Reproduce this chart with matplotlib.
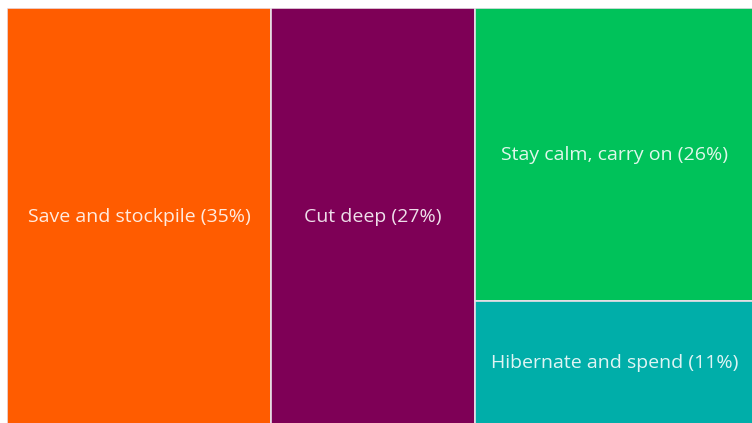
import matplotlib
matplotlib.use("Agg")
import matplotlib.pyplot as plt
from matplotlib.patches import Rectangle

labels = ["Save and stockpile", "Cut deep", "Stay calm, carry on", "Hibernate and spend"]
values = [35, 27, 26, 11]
colors = ["#FF5C00", "#7E0056", "#00C25A", "#00AEA9"]

fig = plt.figure(figsize=(7.52, 4.23), dpi=100)
ax = fig.add_axes([7/752, -2/423, 747/752, 417/423])
total = sum(values)
ax.set_xlim(0, total)
ax.set_ylim(0, 1)
ax.axis("off")

# slice-and-dice layout: first two as columns, last two stacked in the final column
rects = []
x = 0
for v in values[:2]:
    rects.append((x, 0, v, 1))
    x += v
col_w = sum(values[2:])
y = 1
for v in values[2:]:
    h = v / col_w
    rects.append((x, y - h, col_w, h))
    y -= h

for (rx, ry, rw, rh), lab, v, c in zip(rects, labels, values, colors):
    ax.add_patch(Rectangle((rx, ry), rw, rh, facecolor=c, edgecolor="#E8E0E8", linewidth=1.2))
    ax.text(rx + rw / 2, ry + rh / 2, f"{lab} ({v}%)", ha="center", va="center",
            color="white", alpha=0.88, fontsize=14, family=["Open Sans", "DejaVu Sans"])

fig.savefig("out.png", dpi=100)
